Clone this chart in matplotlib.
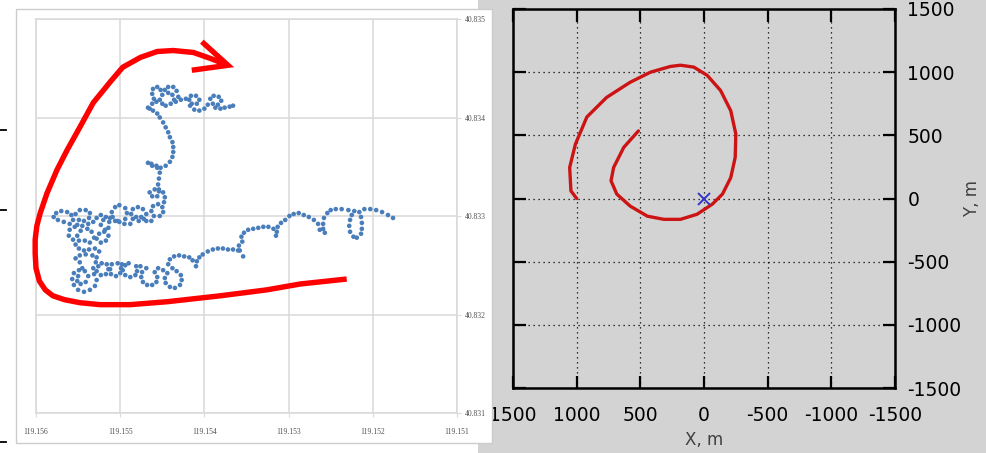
import numpy as np
import matplotlib.pyplot as plt
from matplotlib.patches import Rectangle
from matplotlib.lines import Line2D

# ---- left panel : GPS track (lon / lat), stored as 1e-5 degree offsets ----
LON0, LAT0 = 119.15, 40.83
track_dlon = [
    176, 182, 189, 196, 203, 210, 216, 214, 213, 213, 214, 219, 223, 227, 228, 227, 225, 222, 229, 237,
    244, 250, 254, 258, 259, 259, 257, 263, 265, 270, 276, 282, 288, 294, 299, 304, 309, 313, 314, 315,
    318, 324, 330, 336, 342, 348, 353, 356, 355, 359, 358, 354, 360, 366, 372, 378, 384, 390, 396, 402,
    406, 409, 410, 414, 418, 424, 430, 436,
    441, 443, 438, 433, 428, 427, 429, 435, 441, 446, 447, 444, 449, 455, 459, 456, 457, 462, 468, 473,
    475, 474, 469, 476, 481, 480, 482, 488, 494, 497, 494, 490, 498, 503, 499, 500, 505, 511, 512, 510,
    516, 514, 517, 523, 528, 526, 522, 529, 532, 531, 528, 530, 536, 543, 550, 555, 557, 555, 549, 542,
    538, 541, 547, 551, 550, 545, 548, 553, 548, 541, 533, 528, 525, 530, 537, 543, 549, 553, 549, 542,
    536, 531, 534, 539, 547, 551, 556, 561, 560, 554, 560, 567, 574, 579, 576, 570, 563, 558, 556, 553,
    548, 541, 536, 537, 543, 549, 551, 545, 538, 532, 528, 523, 517, 513, 514, 519, 525, 528, 523, 517,
    514, 518, 523, 520, 512, 510, 506, 501, 494, 492, 494, 501, 506, 509, 503, 495, 488, 485, 487, 485,
    479, 473, 469, 472, 478, 481, 475, 469, 463, 460, 463, 461, 455, 450, 449, 453,
    448, 447, 449, 454, 459, 465, 462, 456, 454, 455, 454, 453, 456, 462, 467, 463, 457, 452, 446, 441,
    438, 437, 437, 438, 441, 443, 446, 449, 453, 456, 461, 465, 467, 462, 460, 462, 461, 456, 452, 450,
    453, 457, 450, 446, 440, 436, 438, 443, 447, 443, 437, 433, 431, 434, 428, 422, 416, 410, 406, 409,
    415, 418, 417, 412, 406, 400, 396, 393, 389, 383, 380, 384, 390, 387, 381, 376, 370, 366,
]
track_dlat = [
    298, 301, 304, 306, 307, 307, 304, 299, 293, 287, 282, 278, 279, 284, 290, 296, 301, 305, 306, 307,
    307, 306, 303, 298, 292, 287, 283, 286, 292, 296, 299, 301, 303, 302, 300, 296, 293, 289, 284, 280,
    287, 289, 289, 288, 287, 286, 283, 279, 274, 270, 265, 259, 265, 266, 266, 267, 267, 266, 264, 261,
    258, 254, 249, 255, 258, 259, 260, 259,
    256, 251, 247, 244, 240, 235, 230, 227, 228, 232, 237, 242, 245, 247, 243, 238, 233, 230, 230, 233,
    238, 243, 247, 249, 249, 244, 240, 238, 240, 245, 250, 252, 251, 252, 247, 242, 239, 241, 246, 251,
    251, 246, 241, 240, 244, 249, 252, 253, 247, 241, 235, 229, 225, 223, 225, 230, 236, 242, 245, 244,
    239, 233, 231, 234, 239, 247, 253, 257, 260, 261, 260, 258, 264, 267, 266, 265, 267, 271, 275, 275,
    273, 278, 284, 287, 285, 280, 276, 280, 286, 289, 292, 294, 296, 299, 303, 305, 304, 301, 296, 302,
    306, 306, 303, 298, 295, 296, 291, 290, 292, 294, 298, 301, 299, 294, 288, 284, 282, 277, 273, 275,
    280, 286, 291, 296, 298, 304, 309, 311, 308, 303, 297, 294, 295, 299, 295, 292, 292, 297, 302, 307,
    309, 307, 302, 297, 295, 299, 299, 295, 295, 300, 305, 310, 312, 309, 304, 300,
    314, 319, 324, 327, 327, 324, 320, 320, 325, 332, 338, 344, 349, 351, 354, 353, 351, 349, 351, 355,
    360, 365, 370, 375, 380, 385, 390, 395, 400, 404, 407, 409, 410, 414, 419, 424, 429, 431, 428, 423,
    418, 416, 414, 412, 414, 418, 423, 425, 428, 431, 431, 427, 421, 416, 418, 419, 422, 422, 418, 414,
    414, 418, 412, 408, 407, 409, 413, 419, 422, 421, 417, 413, 414, 410, 409, 410, 411, 412,
]
lon = LON0 + np.array(track_dlon) * 1e-5
lat = LAT0 + np.array(track_dlat) * 1e-5

# hand drawn red arrow over the track (same offsets)
arrow_dlon = [231, 286, 326, 381, 444, 488, 524, 548, 566, 580, 589, 596, 600, 601, 601, 599, 595,
              587, 575, 563, 548, 532, 512, 497, 476, 456, 437, 413, 393, 372]
arrow_dlat = [236, 231, 225, 219, 213, 210, 210, 212, 215, 219, 225, 234, 247, 262, 276, 290, 303,
              323, 347, 367, 390, 415, 436, 451, 461, 467, 468, 466, 460, 453]
head_dlon = [403, 372, 415]
head_dlat = [477, 453, 448]

lon_ticks = [119.156, 119.155, 119.154, 119.153, 119.152, 119.151]
lat_ticks = [40.831, 40.832, 40.833, 40.834, 40.835]

# ---- right panel : spiral trajectory (X, Y in metres) ----
spiral_x = [1000, 1045, 1055, 1010, 920, 765, 580, 420, 265, 185, 80, -25, -130, -210, -250, -245,
            -210, -145, -65, 55, 185, 315, 445, 580, 685, 730, 710, 630, 515]
spiral_y = [0, 60, 245, 430, 645, 800, 920, 1000, 1045, 1055, 1040, 975, 855, 695, 510, 325,
            165, 35, -45, -125, -165, -165, -140, -60, 35, 140, 245, 405, 535]
xy_ticks = [-1500, -1000, -500, 0, 500, 1000, 1500]

W, H = 987, 453
fig = plt.figure(figsize=(W / 100, H / 100), dpi=100)
fig.patch.set_facecolor("white")

GRAY = "#d3d3d3"
fig.add_artist(Rectangle((478 / W, 0), 1 - 478 / W, 1, transform=fig.transFigure,
                         facecolor=GRAY, edgecolor="none", zorder=-5))

# right axes
axr = fig.add_axes([513 / W, 1 - 388 / H, 382 / W, 379 / H])
axr.set_zorder(1)
axr.set_facecolor(GRAY)
axr.plot(spiral_x, spiral_y, color="#cc1414", lw=2.4, solid_capstyle="round", solid_joinstyle="round")
axr.plot([0], [0], marker="x", color="#3535c8", ms=9, mew=1.4, ls="none")
axr.set_xlim(1500, -1500)
axr.set_ylim(-1500, 1500)
axr.set_xticks(xy_ticks)
axr.set_yticks(xy_ticks)
axr.set_xticklabels([str(v) for v in xy_ticks])
axr.set_yticklabels([str(v) for v in xy_ticks])
axr.tick_params(direction="in", length=9, width=1.6, top=True, bottom=True, left=True, right=True,
                labelleft=False, labelright=True, labelsize=13.5, pad=9)
axr.tick_params(axis="x", pad=13)
axr.grid(True, color="black", linestyle=(0, (1, 3)), lw=0.9)
for s in axr.spines.values():
    s.set_linewidth(1.8)
axr.set_xlabel("X, m", fontsize=12, color="#404040", labelpad=4)
axr.yaxis.set_label_position("right")
axr.set_ylabel("Y, m", fontsize=12, color="#404040", rotation=90, labelpad=1)

# white card of the left screenshot
fig.add_artist(Rectangle((16 / W, 1 - 443 / H), 476 / W, 434 / H, transform=fig.transFigure,
                         facecolor="white", edgecolor="#cccccc", lw=1, zorder=1.5))
for yy in [130, 210, 442]:
    fig.add_artist(Line2D([0, 6 / W], [1 - yy / H] * 2, transform=fig.transFigure,
                          color="black", lw=1.3, zorder=1.6))

# left axes
axl = fig.add_axes([36 / W, 1 - 413 / H, 421 / W, 394 / H])
axl.set_zorder(2)
axl.patch.set_alpha(0)
axl.scatter(lon, lat, s=11, color="#4a7ebb", edgecolors="none", zorder=3)
axl.plot(LON0 + np.array(arrow_dlon) * 1e-5, LAT0 + np.array(arrow_dlat) * 1e-5,
         color="#ff0000", lw=3.9, clip_on=False, solid_capstyle="butt", solid_joinstyle="round", zorder=4)
axl.plot(LON0 + np.array(head_dlon) * 1e-5, LAT0 + np.array(head_dlat) * 1e-5,
         color="#ff0000", lw=3.9, clip_on=False, solid_capstyle="butt", solid_joinstyle="miter", zorder=4)
axl.set_xlim(119.156, 119.151)
axl.set_ylim(40.831, 40.835)
axl.set_xticks(lon_ticks)
axl.set_xticklabels([f"{v:.3f}" for v in lon_ticks])
axl.set_yticks(lat_ticks)
axl.set_yticklabels([f"{v:.3f}" for v in lat_ticks])
axl.yaxis.tick_right()
axl.grid(True, color="#d9d9d9", lw=1.1)
for s in axl.spines.values():
    s.set_color("#d9d9d9")
    s.set_linewidth(1.1)
axl.tick_params(length=3, color="#d9d9d9", labelsize=5.5, labelcolor="#505050", pad=8)
axl.tick_params(axis="y", pad=3)
for t in axl.get_xticklabels() + axl.get_yticklabels():
    t.set_family("Liberation Serif")

fig.savefig("out.png", dpi=100)
